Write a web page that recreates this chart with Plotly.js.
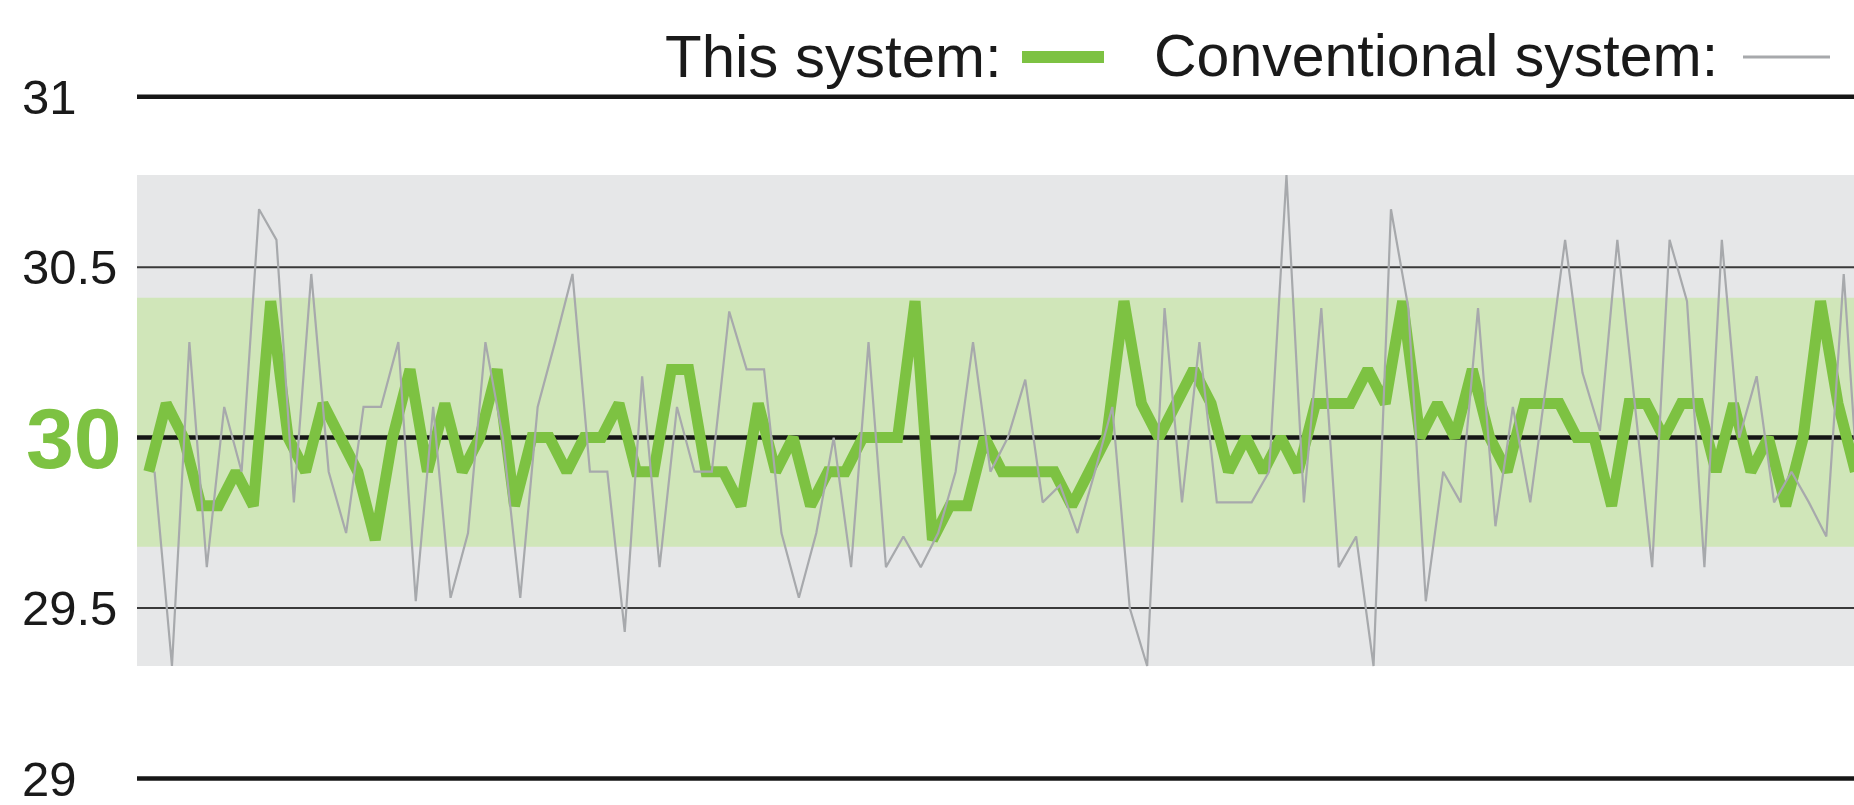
<!DOCTYPE html>
<html>
<head>
<meta charset="utf-8">
<script src="https://cdn.plot.ly/plotly-3.0.1.min.js"></script>
<style>
  html, body { margin: 0; padding: 0; background: #ffffff; }
  #chart { width: 1854px; height: 805px; }
</style>
</head>
<body>
<div id="chart"></div>
<script>
// ---- Data ----
const seriesNames = ["This system:", "Conventional system:"];

// This system (thick green line)
const thisSystem = [
  29.9, 30.1, 30.0, 29.8, 29.8, 29.9, 29.8, 30.4, 30.0, 29.9,
  30.1, 30.0, 29.9, 29.7, 30.0, 30.2, 29.9, 30.1, 29.9, 30.0,
  30.2, 29.8, 30.0, 30.0, 29.9, 30.0, 30.0, 30.1, 29.9, 29.9,
  30.2, 30.2, 29.9, 29.9, 29.8, 30.1, 29.9, 30.0, 29.8, 29.9,
  29.9, 30.0, 30.0, 30.0, 30.4, 29.7, 29.8, 29.8, 30.0, 29.9,
  29.9, 29.9, 29.9, 29.8, 29.9, 30.0, 30.4, 30.1, 30.0, 30.1,
  30.2, 30.1, 29.9, 30.0, 29.9, 30.0, 29.9, 30.1, 30.1, 30.1,
  30.2, 30.1, 30.4, 30.0, 30.1, 30.0, 30.2, 30.0, 29.9, 30.1,
  30.1, 30.1, 30.0, 30.0, 29.8, 30.1, 30.1, 30.0, 30.1, 30.1,
  29.9, 30.1, 29.9, 30.0, 29.8, 30.0, 30.4, 30.1, 29.9
];

// Conventional system (thin grey line)
const conventionalSystem = [
  29.9, 29.33, 30.28, 29.62, 30.09, 29.9, 30.67, 30.58, 29.81, 30.48,
  29.9, 29.72, 30.09, 30.09, 30.28, 29.52, 30.09, 29.53, 29.72, 30.28,
  30.0, 29.53, 30.09, 30.28, 30.48, 29.9, 29.9, 29.43, 30.18, 29.62,
  30.09, 29.9, 29.9, 30.37, 30.2, 30.2, 29.72, 29.53, 29.72, 30.0,
  29.62, 30.28, 29.62, 29.71, 29.62, 29.72, 29.9, 30.28, 29.9, 30.0,
  30.17, 29.81, 29.86, 29.72, 29.9, 30.09, 29.5, 29.33, 30.38, 29.81,
  30.28, 29.81, 29.81, 29.81, 29.9, 30.77, 29.81, 30.38, 29.62, 29.71,
  29.33, 30.67, 30.38, 29.52, 29.9, 29.81, 30.38, 29.74, 30.09, 29.81,
  30.19, 30.58, 30.19, 30.02, 30.58, 30.1, 29.62, 30.58, 30.4, 29.62,
  30.58, 30.0, 30.18, 29.81, 29.9, 29.81, 29.71, 30.48, 29.72
];

// Shaded bands (value ranges)
const conventionalBand = [29.33, 30.77];
const thisSystemBand = [29.68, 30.41];

// Y tick values / labels
const yTickVals = [31, 30.5, 30, 29.5, 29];
const yTickText = ["31", "30.5", "30", "29.5", "29"];
const yMajorTicks = [31, 30, 29];
const yTarget = 30;

// ---- Styling / layout ----
const W = 1854, H = 805;
const M = { l: 137, r: 0, t: 30, b: 5 };
const plotW = W - M.l - M.r, plotH = H - M.t - M.b;
const px2x = px => (px - M.l) / plotW;
const py2y = py => (H - M.b - py) / plotH;

const GREEN = "#7dc242";
const GREY_LINE = "#a7a9ac";
const FONT = '"Liberation Sans", Arial, Helvetica, sans-serif';

const idx = thisSystem.map((_, i) => i);
const idx2 = conventionalSystem.map((_, i) => i);

const xRange = [-0.678, 97.92];
const greyShift = 0.33;

const traces = [
  {
    x: idx2, y: conventionalSystem, name: seriesNames[1],
    type: "scatter", mode: "lines", xaxis: "x2", yaxis: "y",
    line: { color: GREY_LINE, width: 2.2 },
    hoverinfo: "skip", showlegend: false
  },
  {
    x: idx, y: thisSystem, name: seriesNames[0],
    type: "scatter", mode: "lines", xaxis: "x", yaxis: "y",
    line: { color: GREEN, width: 11 },
    hoverinfo: "skip", showlegend: false
  }
];

const shapes = [
  { type: "rect", xref: "paper", yref: "y", x0: 0, x1: 1,
    y0: conventionalBand[0], y1: conventionalBand[1],
    fillcolor: "#e6e7e8", line: { width: 0 }, layer: "below" },
  { type: "rect", xref: "paper", yref: "y", x0: 0, x1: 1,
    y0: thisSystemBand[0], y1: thisSystemBand[1],
    fillcolor: "#d0e6b9", line: { width: 0 }, layer: "below" }
];
yTickVals.forEach(v => {
  const major = yMajorTicks.includes(v);
  shapes.push({
    type: "line", xref: "paper", yref: "y", x0: 0, x1: 1, y0: v, y1: v,
    line: { color: major ? "#161616" : "#3a3a3a", width: major ? 4.5 : 2 },
    layer: "below"
  });
});

// legend samples
shapes.push({ type: "line", xref: "paper", yref: "paper",
  x0: px2x(1022), x1: px2x(1104), y0: py2y(57), y1: py2y(57),
  line: { color: GREEN, width: 12 } });
shapes.push({ type: "line", xref: "paper", yref: "paper",
  x0: px2x(1743), x1: px2x(1830), y0: py2y(57), y1: py2y(57),
  line: { color: GREY_LINE, width: 3 } });

const annotations = [];
yTickVals.forEach((v, k) => {
  const isTarget = v === yTarget;
  annotations.push({
    xref: "paper", yref: "y", x: px2x(isTarget ? 24 : 20), y: v,
    xanchor: "left", yanchor: "middle", showarrow: false,
    text: isTarget ? "<b>" + yTickText[k] + "</b>" : yTickText[k],
    font: { family: FONT, size: isTarget ? 86 : 49, color: isTarget ? GREEN : "#1a1a1a" }
  });
});
annotations.push({
  xref: "paper", yref: "paper", x: px2x(1004), y: py2y(56),
  xanchor: "right", yanchor: "middle", showarrow: false,
  text: seriesNames[0], font: { family: FONT, size: 60, color: "#1a1a1a" }
});
annotations.push({
  xref: "paper", yref: "paper", x: px2x(1720), y: py2y(56),
  xanchor: "right", yanchor: "middle", showarrow: false,
  text: seriesNames[1], font: { family: FONT, size: 59, color: "#1a1a1a" }
});

const layout = {
  width: W, height: H,
  margin: M,
  paper_bgcolor: "#ffffff", plot_bgcolor: "#ffffff",
  showlegend: false,
  xaxis: { range: xRange, visible: false, fixedrange: true },
  xaxis2: { range: [xRange[0] - greyShift, xRange[1] - greyShift], overlaying: "x", visible: false, fixedrange: true },
  yaxis: { range: [28.937, 31.1956], visible: false, fixedrange: true },
  shapes: shapes,
  annotations: annotations,
  font: { family: FONT }
};

Plotly.newPlot("chart", traces, layout, { displayModeBar: false, staticPlot: true });
</script>
</body>
</html>
